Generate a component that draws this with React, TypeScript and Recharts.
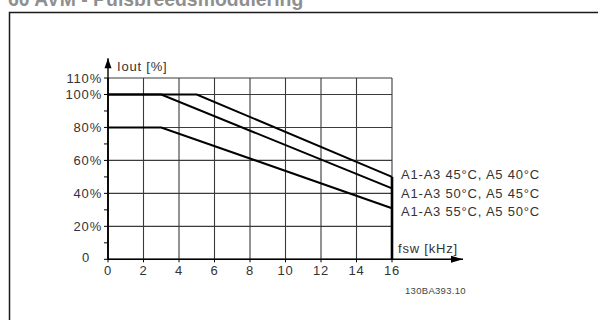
import React from "react";
import { LineChart, Line, XAxis, YAxis, CartesianGrid, ReferenceLine } from "recharts";

// derating curves (fsw in kHz, Iout in %)
const freqTicks = [0, 2, 4, 6, 8, 10, 12, 14, 16];
const majorTicks = [0, 20, 40, 60, 80, 100, 110];
const allTicks = [0, 10, 20, 30, 40, 50, 60, 70, 80, 90, 100, 110];
const seriesNames = ["A1-A3 45°C, A5 40°C", "A1-A3 50°C, A5 45°C", "A1-A3 55°C, A5 50°C"];
const curve45 = [
  { fsw: 0, iout: 100 },
  { fsw: 5, iout: 100 },
  { fsw: 16, iout: 50 },
];
const curve50 = [
  { fsw: 0, iout: 100 },
  { fsw: 3, iout: 100 },
  { fsw: 16, iout: 43 },
];
const curve55 = [
  { fsw: 0, iout: 80 },
  { fsw: 3, iout: 80 },
  { fsw: 16, iout: 31 },
];
const axisEnd = { fsw: 20, iout: 122 };

const FONT = "'Liberation Sans', Arial, sans-serif";
const TXT = "#333";

const YTick = ({ x, y, payload }: any) => {
  if (!majorTicks.includes(payload.value)) return <g />;
  const zero = payload.value === 0;
  return (
    <text x={zero ? x - 12 : x} y={y} dy={zero ? 3 : 4.5} textAnchor="end" fill={TXT} fontSize={13} letterSpacing={0.8} fontFamily={FONT}>
      {zero ? "0" : `${payload.value}%`}
    </text>
  );
};

const XTick = ({ x, y, payload }: any) => (
  <text x={x} y={y} dy={11} textAnchor="middle" fill={TXT} fontSize={13} letterSpacing={0.8} fontFamily={FONT}>
    {payload.value}
  </text>
);

const endLabel = (name: string, count: number, dy: number) => (p: any) => {
  if (p.index !== count - 1) return <g key={`l-${p.index}`} />;
  return (
    <text key={`l-${p.index}`} x={p.x + 9} y={p.y + dy} fill={TXT} fontSize={13} letterSpacing={0.8} fontFamily={FONT}>
      {name}
    </text>
  );
};

const yArrow = (p: any) => (
  <g>
    <line x1={p.x1} y1={p.y1} x2={p.x2} y2={p.y2} stroke="#000" strokeWidth={1.4} />
    <polygon points={`${p.x2},${p.y2} ${p.x2 - 3.5},${p.y2 + 10} ${p.x2 + 3.5},${p.y2 + 10}`} fill="#000" />
    <text x={p.x2 + 9} y={p.y2 + 12.5} fill={TXT} fontSize={13} letterSpacing={0.8} fontFamily={FONT}>
      Iout [%]
    </text>
  </g>
);

const xArrow = (p: any) => (
  <g>
    <line x1={p.x1} y1={p.y1} x2={p.x2} y2={p.y2} stroke="#000" strokeWidth={1.4} />
    <polygon points={`${p.x2},${p.y2} ${p.x2 - 12},${p.y2 - 3.5} ${p.x2 - 12},${p.y2 + 3.5}`} fill="#000" />
    <text x={p.x1 + 6} y={p.y1 - 6} fill={TXT} fontSize={13} letterSpacing={0.8} fontFamily={FONT}>
      fsw [kHz]
    </text>
  </g>
);

export default function App() {
  const last45 = curve45[curve45.length - 1];
  return (
    <div style={{ position: "absolute", left: 0, top: 0, width: 598, height: 320, background: "#fff", overflow: "hidden" }}>
      <svg width={598} height={320} style={{ position: "absolute", left: 0, top: 0 }}>
        <text x={8} y={5.5} fill="#8f8f8f" fontSize={19.4} fontWeight="bold" fontFamily={FONT}>
          60 AVM - Pulsbreedsmodulering
        </text>
        <path d="M9.5 330 L9.5 12.5 L620 12.5" fill="none" stroke="#1a1a1a" strokeWidth={1.5} />
        <text x={405} y={294} fill="#444" fontSize={9.5} letterSpacing={0.3} fontFamily={FONT}>
          130BA393.10
        </text>
      </svg>
      <div style={{ position: "absolute", left: 0, top: 0 }}>
        <LineChart width={598} height={320} margin={{ top: 78, right: 206, bottom: 40.7, left: 8 }}>
          <CartesianGrid
            stroke="#3a3a3a"
            strokeWidth={1.1}
            horizontalValues={majorTicks}
            verticalValues={freqTicks}
          />
          <XAxis
            dataKey="fsw"
            type="number"
            domain={[0, 16]}
            ticks={freqTicks}
            interval={0}
            axisLine={{ stroke: "#000", strokeWidth: 1.4 }}
            tickLine={{ stroke: "#000" }}
            tickSize={3}
            height={20}
            tick={<XTick />}
          />
          <YAxis
            type="number"
            domain={[0, 110]}
            ticks={allTicks}
            interval={0}
            width={100}
            axisLine={{ stroke: "#000", strokeWidth: 1.4 }}
            tickLine={{ stroke: "#000" }}
            tickSize={4}
            tickMargin={2}
            tick={<YTick />}
          />
          <ReferenceLine segment={[{ x: 0, y: 0 }, { x: 0, y: axisEnd.iout }]} ifOverflow="visible" shape={yArrow} />
          <ReferenceLine segment={[{ x: 16, y: 0 }, { x: axisEnd.fsw, y: 0 }]} ifOverflow="visible" shape={xArrow} />
          <ReferenceLine
            segment={[{ x: last45.fsw, y: 0 }, { x: last45.fsw, y: last45.iout }]}
            stroke="#000"
            strokeWidth={2.6}
            ifOverflow="visible"
          />
          <Line data={curve45} dataKey="iout" name={seriesNames[0]} stroke="#000" strokeWidth={2} dot={false} isAnimationActive={false} label={endLabel(seriesNames[0], curve45.length, 1.8)} />
          <Line data={curve50} dataKey="iout" name={seriesNames[1]} stroke="#000" strokeWidth={2} dot={false} isAnimationActive={false} label={endLabel(seriesNames[1], curve50.length, 9.2)} />
          <Line data={curve55} dataKey="iout" name={seriesNames[2]} stroke="#000" strokeWidth={2} dot={false} isAnimationActive={false} label={endLabel(seriesNames[2], curve55.length, 8.2)} />
        </LineChart>
      </div>
    </div>
  );
}
